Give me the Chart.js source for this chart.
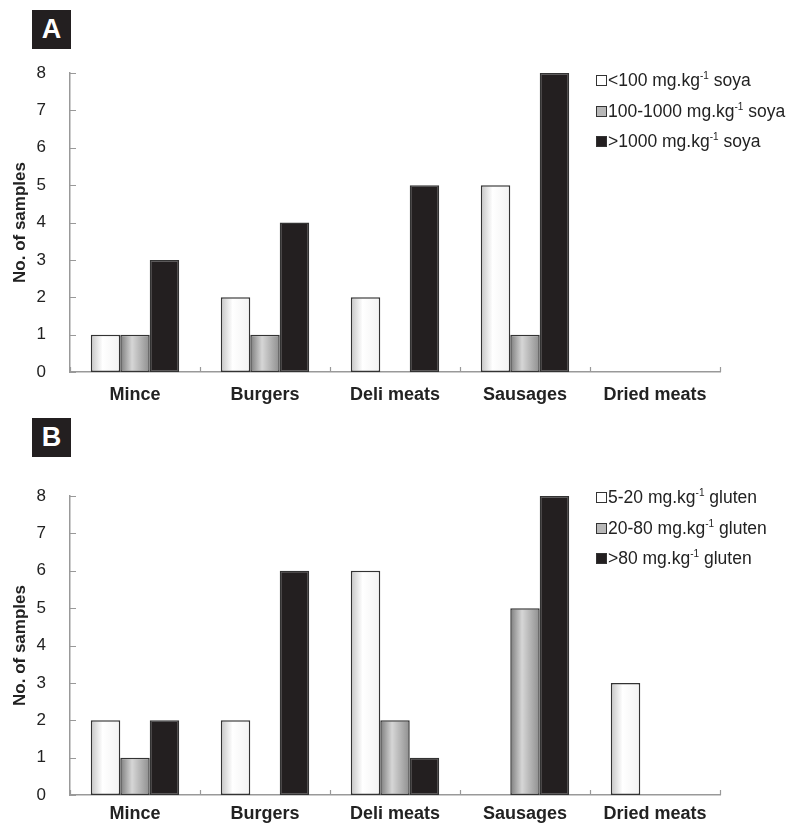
<!DOCTYPE html>
<html>
<head>
<meta charset="utf-8">
<script src="https://cdn.jsdelivr.net/npm/chart.js@4.4.0/dist/chart.umd.min.js"></script>
<style>
  body { margin: 0; background: #fff; font-family: Arial, "Liberation Sans", sans-serif; }
  #page { position: relative; width: 797px; height: 823px; overflow: hidden; }
  .panel { position: absolute; left: 0; width: 797px; height: 430px; }
  .tag { position: absolute; left: 32px; width: 39px; height: 39px; background: #231f20;
         color: #fff; font: bold 27px Arial, "Liberation Sans", sans-serif; text-align: center; line-height: 39px; }
  .legend { position: absolute; left: 596px; font-size: 17.5px; color: #222; }
  .legend div { height: 30.5px; line-height: 17px; white-space: nowrap; }
  .legend span.box { display: inline-block; width: 9px; height: 9px; border: 1px solid #333; margin-right: 1px; vertical-align: 0px; }
  .legend sup { font-size: 10px; vertical-align: 7px; line-height: 0; }
</style>
</head>
<body>
<div id="page">
  <div class="tag" style="top:10px">A</div>
  <div class="panel" style="top:0"><canvas id="chartA" width="797" height="430"></canvas></div>
  <div class="legend" id="legendA" style="top:72px"></div>

  <div class="tag" style="top:418px">B</div>
  <div class="panel" style="top:423px"><canvas id="chartB" width="797" height="430"></canvas></div>
  <div class="legend" id="legendB" style="top:489px"></div>
</div>
<script>
// categories, same for both panels
const categories = ['Mince', 'Burgers', 'Deli meats', 'Sausages', 'Dried meats'];

// panel A - soya
const soyaLabels = ['<100', '100-1000', '>1000'];
const soyaLow  = [1, 2, 2, 5, 0];
const soyaMid  = [1, 1, 0, 1, 0];
const soyaHigh = [3, 4, 5, 8, 0];

// panel B - gluten
const glutenLabels = ['5-20', '20-80', '>80'];
const glutenLow  = [2, 2, 6, 0, 3];
const glutenMid  = [1, 0, 2, 5, 0];
const glutenHigh = [2, 6, 1, 8, 0];

const yTicks = [0, 1, 2, 3, 4, 5, 6, 7, 8];

const catPct = 0.68;
const swatches = ['#ffffff', '#b8b8b8', '#231f20'];

// horizontal shading, like the cylinder look of the original bars
const shades = [
  [[0, '#c4c4c4'], [0.4, '#ffffff'], [1, '#f2f2f2']],
  [[0, '#7c7c7c'], [0.4, '#d6d6d6'], [1, '#8e8e8e']],
  null
];

function barFill(di) {
  return function(ctx) {
    const chart = ctx.chart;
    const area = chart.chartArea;
    if (!area || shades[di] == null) return swatches[di];
    const xs = chart.scales.x;
    const catW = area.width / categories.length;
    const barW = catW * catPct / 3;
    const cx = xs.getPixelForValue(ctx.dataIndex);
    const left = cx - catW * catPct / 2 + di * barW;
    const g = chart.ctx.createLinearGradient(left, 0, left + barW, 0);
    shades[di].forEach(s => g.addColorStop(s[0], s[1]));
    return g;
  };
}

// short tick marks pointing into the plot, as in the original
const innerTicks = {
  id: 'innerTicks',
  afterDraw(chart) {
    const c = chart.ctx, a = chart.chartArea;
    const xs = chart.scales.x, ys = chart.scales.y;
    c.save();
    c.strokeStyle = '#999';
    c.lineWidth = 1.2;
    c.beginPath();
    yTicks.forEach(v => {
      const y = Math.round(ys.getPixelForValue(v)) + 0.5;
      c.moveTo(a.left, y); c.lineTo(a.left + 6, y);
    });
    for (let i = 0; i <= categories.length; i++) {
      const x = Math.round(xs.getPixelForValue(i - 0.5)) + 0.5;
      c.moveTo(x, a.bottom); c.lineTo(x, a.bottom - 5);
    }
    c.stroke();
    c.restore();
  }
};

function makeChart(id, series, names, labelPad) {
  return new Chart(document.getElementById(id), {
    type: 'bar',
    data: {
      labels: categories,
      datasets: series.map((d, i) => ({
        label: names[i],
        data: d,
        backgroundColor: barFill(i),
        borderColor: '#333',
        borderWidth: 1.5,
        borderSkipped: false,
        categoryPercentage: catPct,
        barPercentage: 1
      }))
    },
    options: {
      responsive: false,
      animation: false,
      layout: { padding: { top: 73, right: 77, left: 0, bottom: 8 } },
      plugins: { legend: { display: false }, tooltip: { enabled: false } },
      scales: {
        x: {
          grid: { display: false },
          border: { color: '#999', width: 1.5 },
          ticks: { color: '#222', font: { family: 'Arial', size: 18, weight: 'bold' }, padding: labelPad },
          afterFit: s => { s.height = 50; }
        },
        y: {
          min: 0, max: 8,
          afterBuildTicks: s => { s.ticks = yTicks.map(v => ({ value: v })); },
          grid: { display: false },
          border: { color: '#999', width: 1.5 },
          ticks: { color: '#222', font: { family: 'Arial', size: 17 }, padding: 16 },
          title: { display: true, text: 'No. of samples', color: '#222',
                   font: { family: 'Arial', size: 17, weight: 'bold' }, padding: { top: 10, bottom: 0 } },
          afterFit: s => { s.width = 70; }
        }
      }
    },
    plugins: [innerTicks]
  });
}

function makeLegend(id, names, unit) {
  const el = document.getElementById(id);
  names.forEach((n, i) => {
    const row = document.createElement('div');
    const box = document.createElement('span');
    box.className = 'box';
    box.style.background = swatches[i];
    row.appendChild(box);
    row.appendChild(document.createTextNode(n + ' mg.kg'));
    const sup = document.createElement('sup');
    sup.textContent = '-1';
    row.appendChild(sup);
    row.appendChild(document.createTextNode(' ' + unit));
    el.appendChild(row);
  });
}

makeChart('chartA', [soyaLow, soyaMid, soyaHigh], soyaLabels, 4);
makeChart('chartB', [glutenLow, glutenMid, glutenHigh], glutenLabels, 0);
makeLegend('legendA', soyaLabels, 'soya');
makeLegend('legendB', glutenLabels, 'gluten');
</script>
</body>
</html>
